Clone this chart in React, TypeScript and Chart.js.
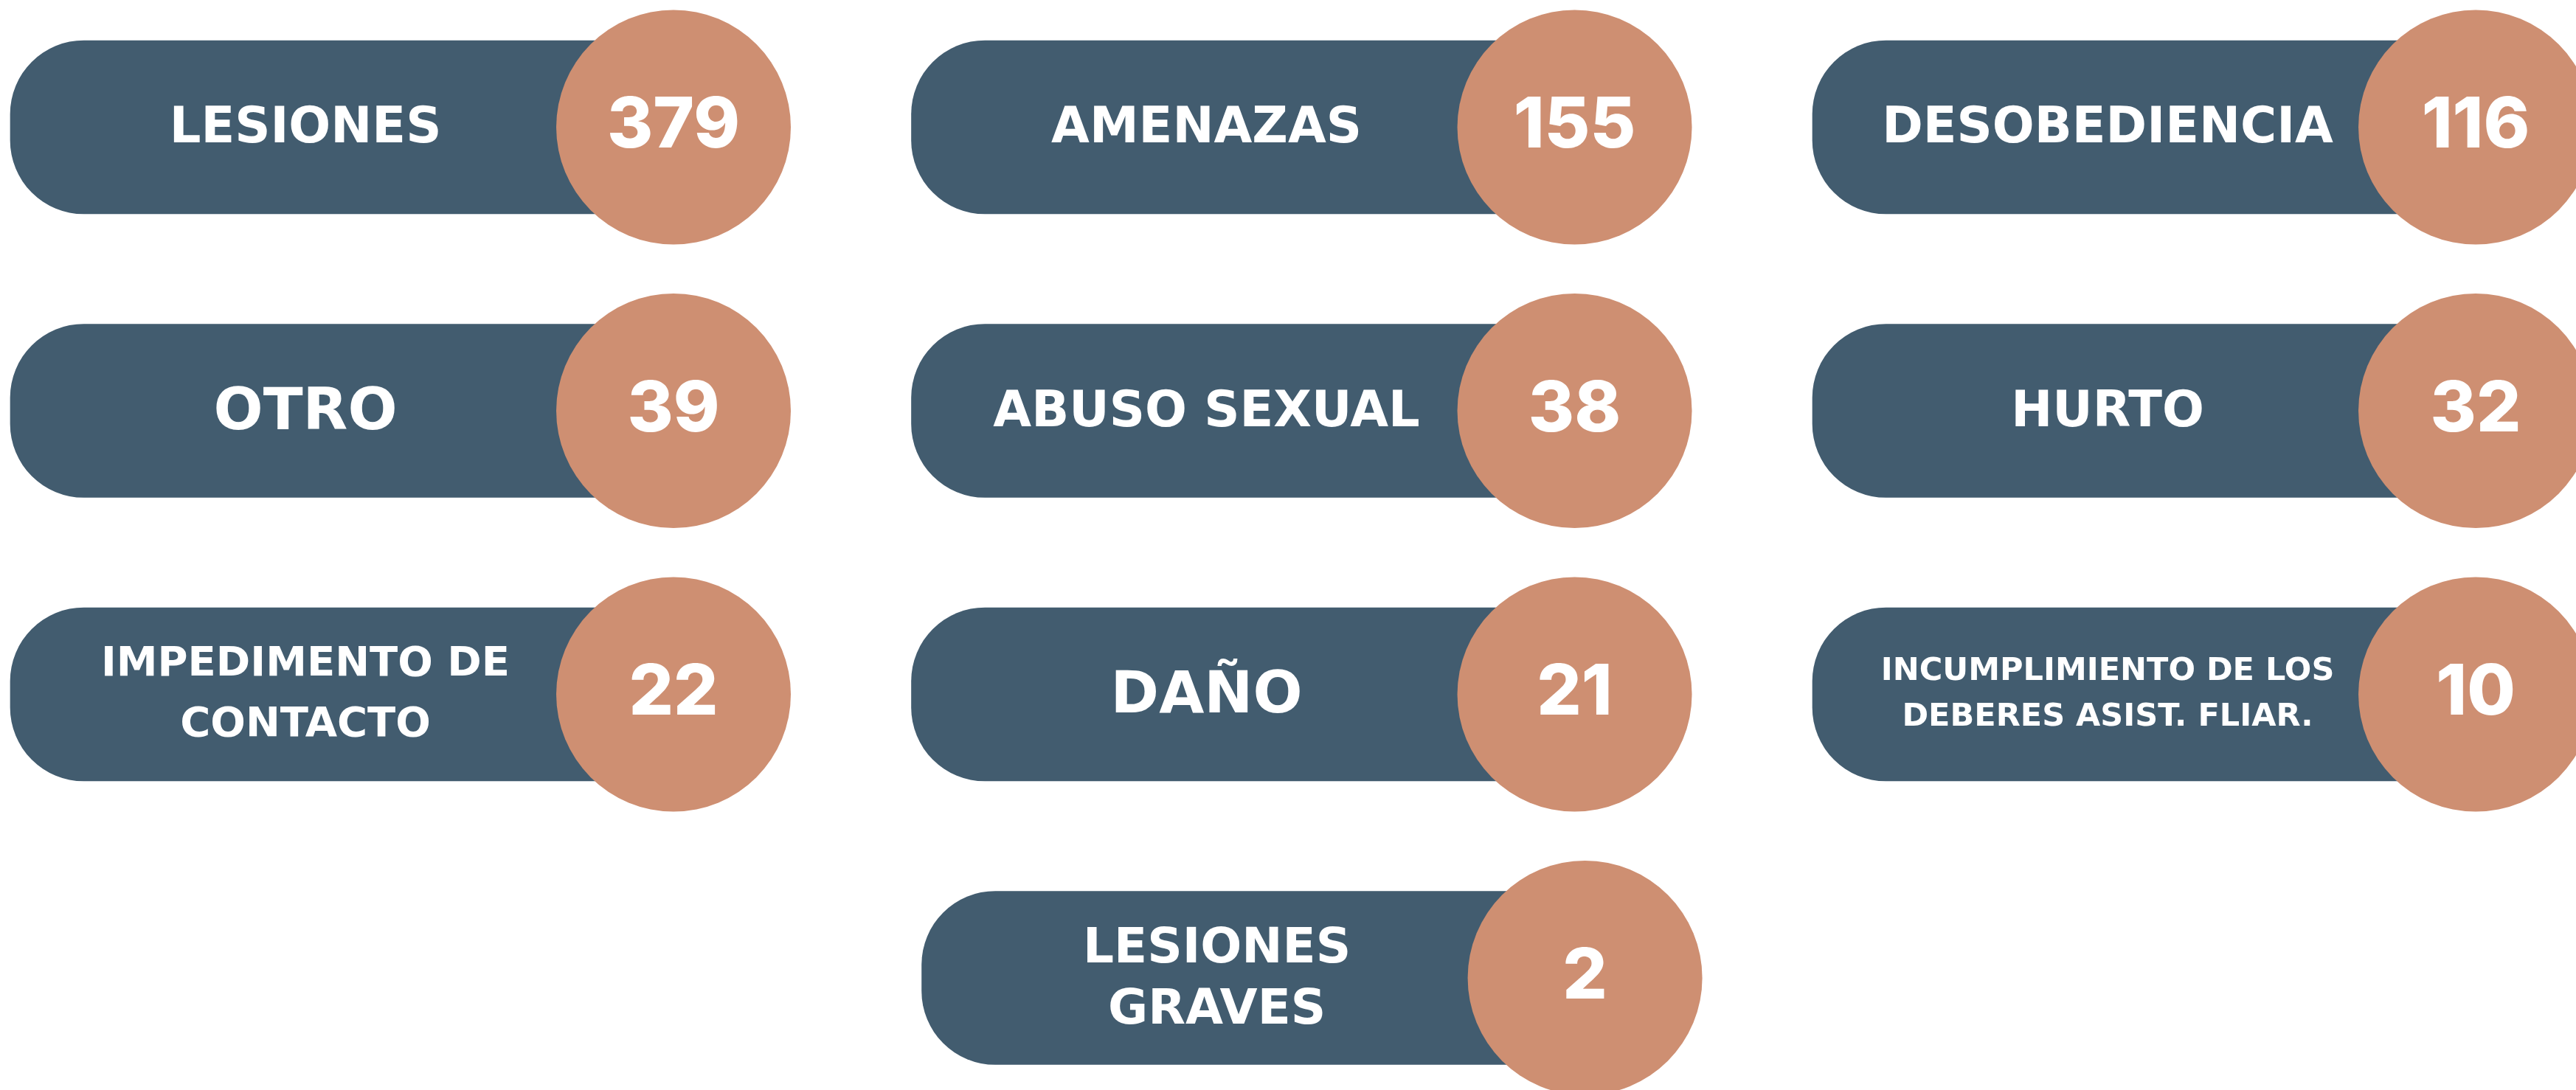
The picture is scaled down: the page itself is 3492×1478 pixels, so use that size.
import React, { useEffect, useRef } from 'react';
import { Chart, registerables } from 'chart.js';

Chart.register(...registerables);

// ---------- data ----------
const CATEGORIES: string[] = [
  'LESIONES',
  'AMENAZAS',
  'DESOBEDIENCIA',
  'OTRO',
  'ABUSO SEXUAL',
  'HURTO',
  'IMPEDIMENTO DE\nCONTACTO',
  'DAÑO',
  'INCUMPLIMIENTO DE LOS\nDEBERES ASIST. FLIAR.',
  'LESIONES\nGRAVES',
];
const VALUES: number[] = [379, 155, 116, 39, 38, 32, 22, 21, 10, 2];

// ---------- style / layout ----------
const PILL_COLOR = '#425C6F';
const CIRCLE_COLOR = '#CE8F72';
const LABEL_FONT = '"DejaVu Sans", sans-serif';
const NUMBER_FONT = 'Inter, "DejaVu Sans", sans-serif';
const LABEL_SIZES = [67, 67, 67, 79, 67, 67, 56, 79, 43, 66];
const LABEL_LINE_GAP = [0, 0, 0, 0, 0, 0, 82, 0, 62, 83];
const NUMBER_SIZE = 95;
const COLS = 3;
const X_MIN = -0.01146;
const X_MAX = 2.8473;
const Y_MIN = -0.4486;
const Y_MAX = 3.3953;
const PILL_LEN = 0.736;
const LAST_ROW_SHIFT = 0.0115;
const LABEL_OFFSET = 0.3275;
const LABEL_DY = -4;
const NUMBER_DY = -7;

function cellOf(i: number) {
  const n = CATEGORIES.length;
  const row = Math.floor(i / COLS);
  const lastRow = Math.floor((n - 1) / COLS);
  const single = row === lastRow && n % COLS === 1;
  const col = single ? 1 : i % COLS;
  return { x0: col + (single ? LAST_ROW_SHIFT : 0), row };
}

const textPlugin = {
  id: 'cellText',
  afterDatasetsDraw(chart: any) {
    const ctx: CanvasRenderingContext2D = chart.ctx;
    const xs = chart.scales.x;
    const ys = chart.scales.y;
    const circles = chart.getDatasetMeta(0).data;
    ctx.save();
    ctx.fillStyle = '#ffffff';
    ctx.textAlign = 'center';
    ctx.textBaseline = 'alphabetic';
    CATEGORIES.forEach((label, i) => {
      const { x0, row } = cellOf(i);
      const cy = ys.getPixelForValue(row);
      const lx = xs.getPixelForValue(x0 + LABEL_OFFSET);
      ctx.font = `bold ${LABEL_SIZES[i]}px ${LABEL_FONT}`;
      const cap = ctx.measureText('H').actualBoundingBoxAscent;
      const lines = label.split('\n');
      lines.forEach((ln, k) => {
        const mid = cy + LABEL_DY + (k - (lines.length - 1) / 2) * LABEL_LINE_GAP[i];
        ctx.fillText(ln, lx, mid + cap / 2);
      });
      const pt = circles[i];
      ctx.font = `800 ${NUMBER_SIZE}px ${NUMBER_FONT}`;
      const ncap = ctx.measureText('0').actualBoundingBoxAscent;
      ctx.fillText(String(VALUES[i]), pt.x, pt.y + NUMBER_DY + ncap / 2);
    });
    ctx.restore();
  },
};

export default function App() {
  const ref = useRef<HTMLCanvasElement | null>(null);
  useEffect(() => {
    document.body.style.margin = '0';
    const canvas = ref.current;
    if (!canvas) return;
    const chart = new Chart(canvas, {
      type: 'bar',
      data: {
        datasets: [
          {
            type: 'scatter',
            indexAxis: 'x',
            data: CATEGORIES.map((_, i) => {
              const c = cellOf(i);
              return { x: c.x0 + PILL_LEN, y: c.row };
            }),
            pointRadius: 159,
            pointHoverRadius: 159,
            backgroundColor: CIRCLE_COLOR,
            borderWidth: 0,
            pointBorderWidth: 0,
            clip: false,
            order: 0,
          } as any,
          {
            type: 'bar',
            data: CATEGORIES.map((_, i) => {
              const c = cellOf(i);
              return { x: [c.x0, c.x0 + PILL_LEN], y: c.row };
            }),
            backgroundColor: PILL_COLOR,
            barThickness: 235,
            borderRadius: 100,
            borderSkipped: false,
            borderWidth: 0,
            clip: false,
            order: 1,
          } as any,
        ],
      },
      options: {
        indexAxis: 'y',
        responsive: false,
        animation: false,
        events: [],
        layout: { padding: 0, autoPadding: false },
        plugins: { legend: { display: false }, tooltip: { enabled: false } },
        scales: {
          x: { type: 'linear', min: X_MIN, max: X_MAX, display: false, offset: false },
          y: { type: 'linear', min: Y_MIN, max: Y_MAX, reverse: true, display: false, offset: false },
        },
      } as any,
      plugins: [textPlugin],
    });
    return () => chart.destroy();
  }, []);
  return (
    <canvas
      ref={ref}
      width={3492}
      height={1478}
      style={{ display: 'block', width: 3492, height: 1478 }}
    />
  );
}
